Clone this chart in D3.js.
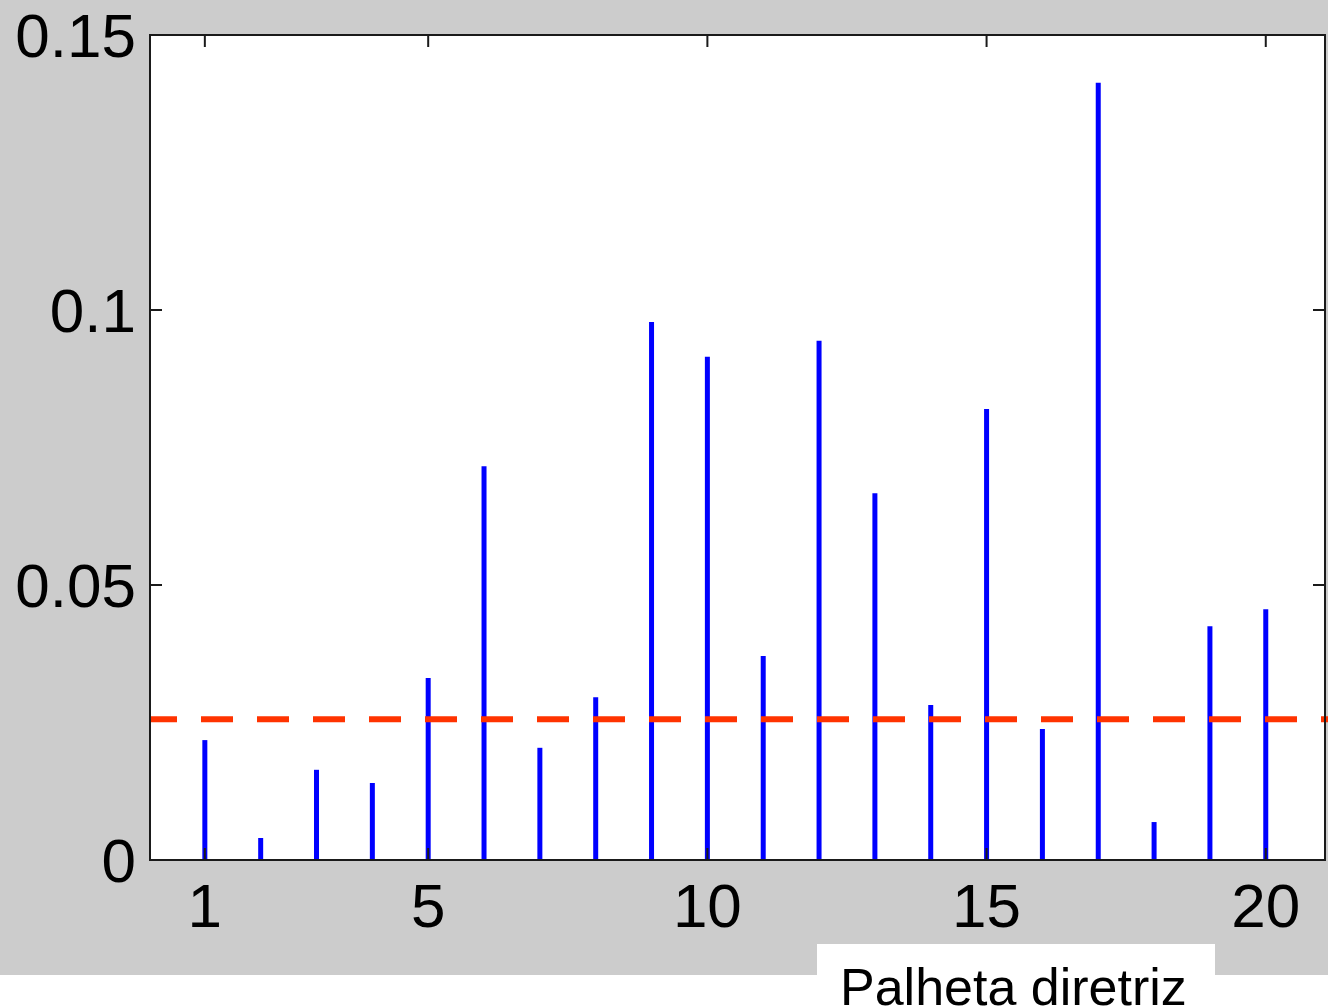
<!DOCTYPE html>
<html>
  <head>
    <script src="https://d3js.org/d3.v7.min.js"></script>
    <style>
      body { margin: 0; background: #fff; }
      text { font-family: Arial, "Liberation Sans", sans-serif; fill: #000; }
    </style>
  </head>
  <body>
    <svg width="1328" height="1008"></svg>
    <script>
      var blades = d3.range(1, 21);
      var values = [0.0218, 0.0040, 0.0164, 0.0140, 0.0331, 0.0716, 0.0204, 0.0296, 0.0978, 0.0915,
                    0.0371, 0.0944, 0.0667, 0.0282, 0.0820, 0.0238, 0.1413, 0.0069, 0.0425, 0.0456];
      var threshold = 0.0256;
      var xTicks = [1, 5, 10, 15, 20];
      var yTicks = [0, 0.05, 0.1, 0.15];
      var xLabel = "Palheta diretriz";

      var svg = d3.select("svg");
      var boxL = 150, boxR = 1325, boxT = 35, boxB = 860;

      var x = d3.scaleLinear().domain([0, 21]).range([149, 1321.6]);
      var y = d3.scaleLinear().domain([0, 0.15]).range([boxB, boxT]);

      // gray figure background
      svg.append("rect").attr("x", 0).attr("y", 0).attr("width", 1328).attr("height", 975).attr("fill", "#cccccc");
      svg.append("rect").attr("x", 817).attr("y", 944).attr("width", 398).attr("height", 64).attr("fill", "#fff");

      // plot area
      svg.append("rect").attr("x", boxL).attr("y", boxT)
        .attr("width", boxR - boxL).attr("height", boxB - boxT).attr("fill", "#fff");

      // stems
      svg.selectAll("line.stem")
        .data(blades)
        .enter()
        .append("line")
          .attr("class", "stem")
          .attr("x1", d => x(d)).attr("x2", d => x(d))
          .attr("y1", y(0)).attr("y2", (d, i) => y(values[i]))
          .attr("stroke", "#0000ff")
          .attr("stroke-width", 5);

      // threshold line
      svg.append("line")
        .attr("x1", boxL).attr("x2", 1328)
        .attr("y1", y(threshold)).attr("y2", y(threshold))
        .attr("stroke", "#ff3300")
        .attr("stroke-width", 6)
        .attr("stroke-dasharray", "32,24")
        .attr("stroke-dashoffset", 5);

      // axes box and ticks
      var tk = 12;
      var ax = svg.append("g").attr("stroke", "#1a1a1a").attr("stroke-width", 2).attr("fill", "none");
      ax.append("rect").attr("x", boxL).attr("y", boxT).attr("width", boxR - boxL).attr("height", boxB - boxT);
      xTicks.forEach(t => {
        ax.append("line").attr("x1", x(t)).attr("x2", x(t)).attr("y1", boxB).attr("y2", boxB - tk);
        ax.append("line").attr("x1", x(t)).attr("x2", x(t)).attr("y1", boxT).attr("y2", boxT + tk);
      });
      yTicks.forEach(t => {
        ax.append("line").attr("x1", boxL).attr("x2", boxL + tk).attr("y1", y(t)).attr("y2", y(t));
        ax.append("line").attr("x1", boxR).attr("x2", boxR - tk).attr("y1", y(t)).attr("y2", y(t));
      });

      // tick labels
      svg.selectAll("text.xt")
        .data(xTicks)
        .enter()
        .append("text")
          .attr("class", "xt")
          .attr("x", d => x(d))
          .attr("y", 927)
          .attr("text-anchor", "middle")
          .style("font-size", "62px")
          .text(d => d);

      svg.selectAll("text.yt")
        .data(yTicks)
        .enter()
        .append("text")
          .attr("class", "yt")
          .attr("x", 136)
          .attr("y", d => y(d) + 22)
          .attr("text-anchor", "end")
          .style("font-size", "62px")
          .text(d => d === 0 ? "0" : String(d));

      svg.append("text")
        .attr("x", 840)
        .attr("y", 1005)
        .style("font-size", "52px")
        .text(xLabel);
    </script>
  </body>
</html>
